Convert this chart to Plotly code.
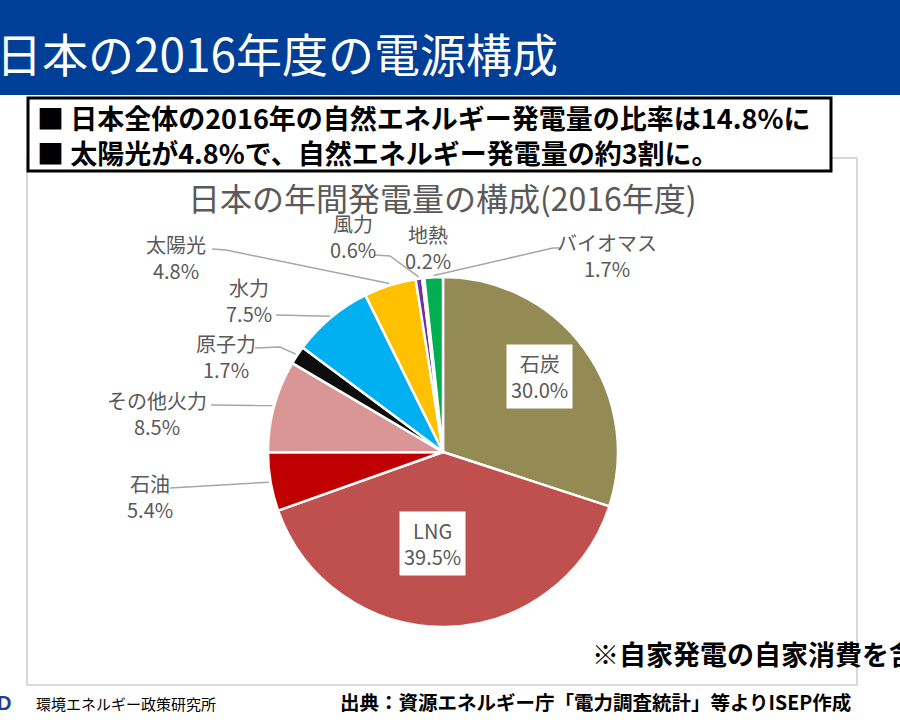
import math
import plotly.graph_objects as go

# ---- data ----
labels = ["石炭", "LNG", "石油", "その他火力", "原子力", "水力", "太陽光", "風力", "地熱", "バイオマス"]
values = [30.0, 39.5, 5.4, 8.5, 1.7, 7.5, 4.8, 0.6, 0.2, 1.7]
colors = ["#948A54", "#C0504D", "#C00000", "#D99694", "#0D0D0D", "#00B0F0",
          "#FFC000", "#7030A0", "#F2F2F2", "#00B050"]

W, H = 900, 720
CX, CY, R = 443, 452, 175


def px(x):
    return x / W


def py(y):
    return 1 - y / H


fig = go.Figure()
fig.add_trace(go.Pie(
    labels=labels, values=values, sort=False, direction="clockwise", rotation=0,
    marker=dict(colors=colors, line=dict(color="white", width=2.5)),
    textinfo="none", hoverinfo="label+percent", showlegend=False,
    domain=dict(x=[px(CX - R), px(CX + R)], y=[py(CY + R), py(CY - R)]),
))

total = sum(values)
mid_angle = {}
acc = 0.0
for lab, v in zip(labels, values):
    mid_angle[lab] = (acc + v / 2) / total * 360.0
    acc += v


def edge(lab, k=1.01):
    a = math.radians(mid_angle[lab])
    return CX + R * k * math.sin(a), CY - R * k * math.cos(a)


shapes = []
# header bar
shapes.append(dict(type="rect", xref="paper", yref="paper", x0=0, x1=1, y0=py(95), y1=1,
                   fillcolor="#003F98", line=dict(width=0), layer="below"))
# chart frame
shapes.append(dict(type="rect", xref="paper", yref="paper", x0=px(27), x1=px(857), y0=py(685), y1=py(158),
                   fillcolor="white", line=dict(color="#D9D9D9", width=2), layer="below"))
# bullet box
shapes.append(dict(type="rect", xref="paper", yref="paper", x0=px(28), x1=px(831), y0=py(171), y1=py(98),
                   fillcolor="white", line=dict(color="black", width=3)))

# outside labels: (label, text-center x, y of first line, leader elbow points)
outside = [
    ("太陽光", 176, 241, [(212, 249), (226, 250)]),
    ("風力", 353, 220, [(375, 255), (390, 256)]),
    ("地熱", 428, 231, None),
    ("バイオマス", 607, 239, [(561, 248), (553, 248)]),
    ("水力", 249, 284, [(276, 315)]),
    ("原子力", 226, 340, [(255, 348), (280, 347)]),
    ("その他火力", 157, 397, [(211, 405)]),
    ("石油", 150, 480, [(170, 488)]),
]

annotations = []
lab_font = dict(family="Noto Sans CJK JP", size=20, color="#595959")
for lab, x, y, pts in outside:
    v = values[labels.index(lab)]
    annotations.append(dict(xref="paper", yref="paper", x=px(x), y=py(y - 13), xanchor="center",
                            yanchor="top", showarrow=False, align="center",
                            text=f"{lab}<br>{v:.1f}%", font=lab_font))
    if pts:
        ex, ey = edge(lab)
        allp = pts + [(ex, ey)]
        path = "M " + " L ".join(f"{px(a):.5f},{py(b):.5f}" for a, b in allp)
        shapes.append(dict(type="path", xref="paper", yref="paper", path=path,
                           line=dict(color="#A6A6A6", width=1.5)))

# inside labels with white boxes
for lab, x, y in [("石炭", 539, 376), ("LNG", 432, 543)]:
    v = values[labels.index(lab)]
    annotations.append(dict(xref="paper", yref="paper", x=px(x), y=py(y), xanchor="center",
                            yanchor="middle", showarrow=False, align="center",
                            text=f"{lab}<br>{v:.1f}%", font=lab_font, bgcolor="white", borderpad=4))

# header title
annotations.append(dict(xref="paper", yref="paper", x=px(-6), y=py(52), xanchor="left", yanchor="middle",
                        showarrow=False, text="日本の2016年度の電源構成",
                        font=dict(family="Noto Sans CJK JP", size=46, color="white")))
# bullets
bfont = dict(family="Noto Sans CJK JP", size=27, color="black")
annotations.append(dict(xref="paper", yref="paper", x=px(35), y=py(118), xanchor="left", yanchor="middle",
                        showarrow=False, text="<b>■ 日本全体の2016年の自然エネルギー発電量の比率は14.8%に</b>", font=bfont))
annotations.append(dict(xref="paper", yref="paper", x=px(35), y=py(152), xanchor="left", yanchor="middle",
                        showarrow=False, text="<b>■ 太陽光が4.8%で、自然エネルギー発電量の約3割に。</b>", font=bfont))
# chart title
annotations.append(dict(xref="paper", yref="paper", x=px(442), y=py(197), xanchor="center", yanchor="middle",
                        showarrow=False, text="日本の年間発電量の構成(2016年度)",
                        font=dict(family="Noto Sans CJK JP", size=32, color="#595959")))
# note
annotations.append(dict(xref="paper", yref="paper", x=px(590), y=py(653), xanchor="left", yanchor="middle",
                        showarrow=False, text="<b>※自家発電の自家消費を含む</b>",
                        font=dict(family="Noto Sans CJK JP", size=27, color="black")))
# footer
annotations.append(dict(xref="paper", yref="paper", x=px(34), y=py(703), xanchor="left", yanchor="middle",
                        showarrow=False, text="環境エネルギー政策研究所",
                        font=dict(family="Noto Sans CJK JP", size=15, color="black")))
annotations.append(dict(xref="paper", yref="paper", x=px(338), y=py(701), xanchor="left", yanchor="middle",
                        showarrow=False, text="<b>出典：資源エネルギー庁「電力調査統計」等よりISEP作成</b>",
                        font=dict(family="Noto Sans CJK JP", size=19.5, color="black")))
annotations.append(dict(xref="paper", yref="paper", x=px(-5), y=py(703), xanchor="left", yanchor="middle",
                        showarrow=False, text="<b>D</b>",
                        font=dict(family="Liberation Sans", size=20, color="#1F3F8F")))

fig.update_layout(
    width=W, height=H, margin=dict(l=0, r=0, t=0, b=0),
    paper_bgcolor="white", plot_bgcolor="white",
    shapes=shapes, annotations=annotations,
)
fig.write_html("out.html", config={"displayModeBar": False},
               post_script="document.body.style.margin='0px';document.body.style.overflow='hidden';")
